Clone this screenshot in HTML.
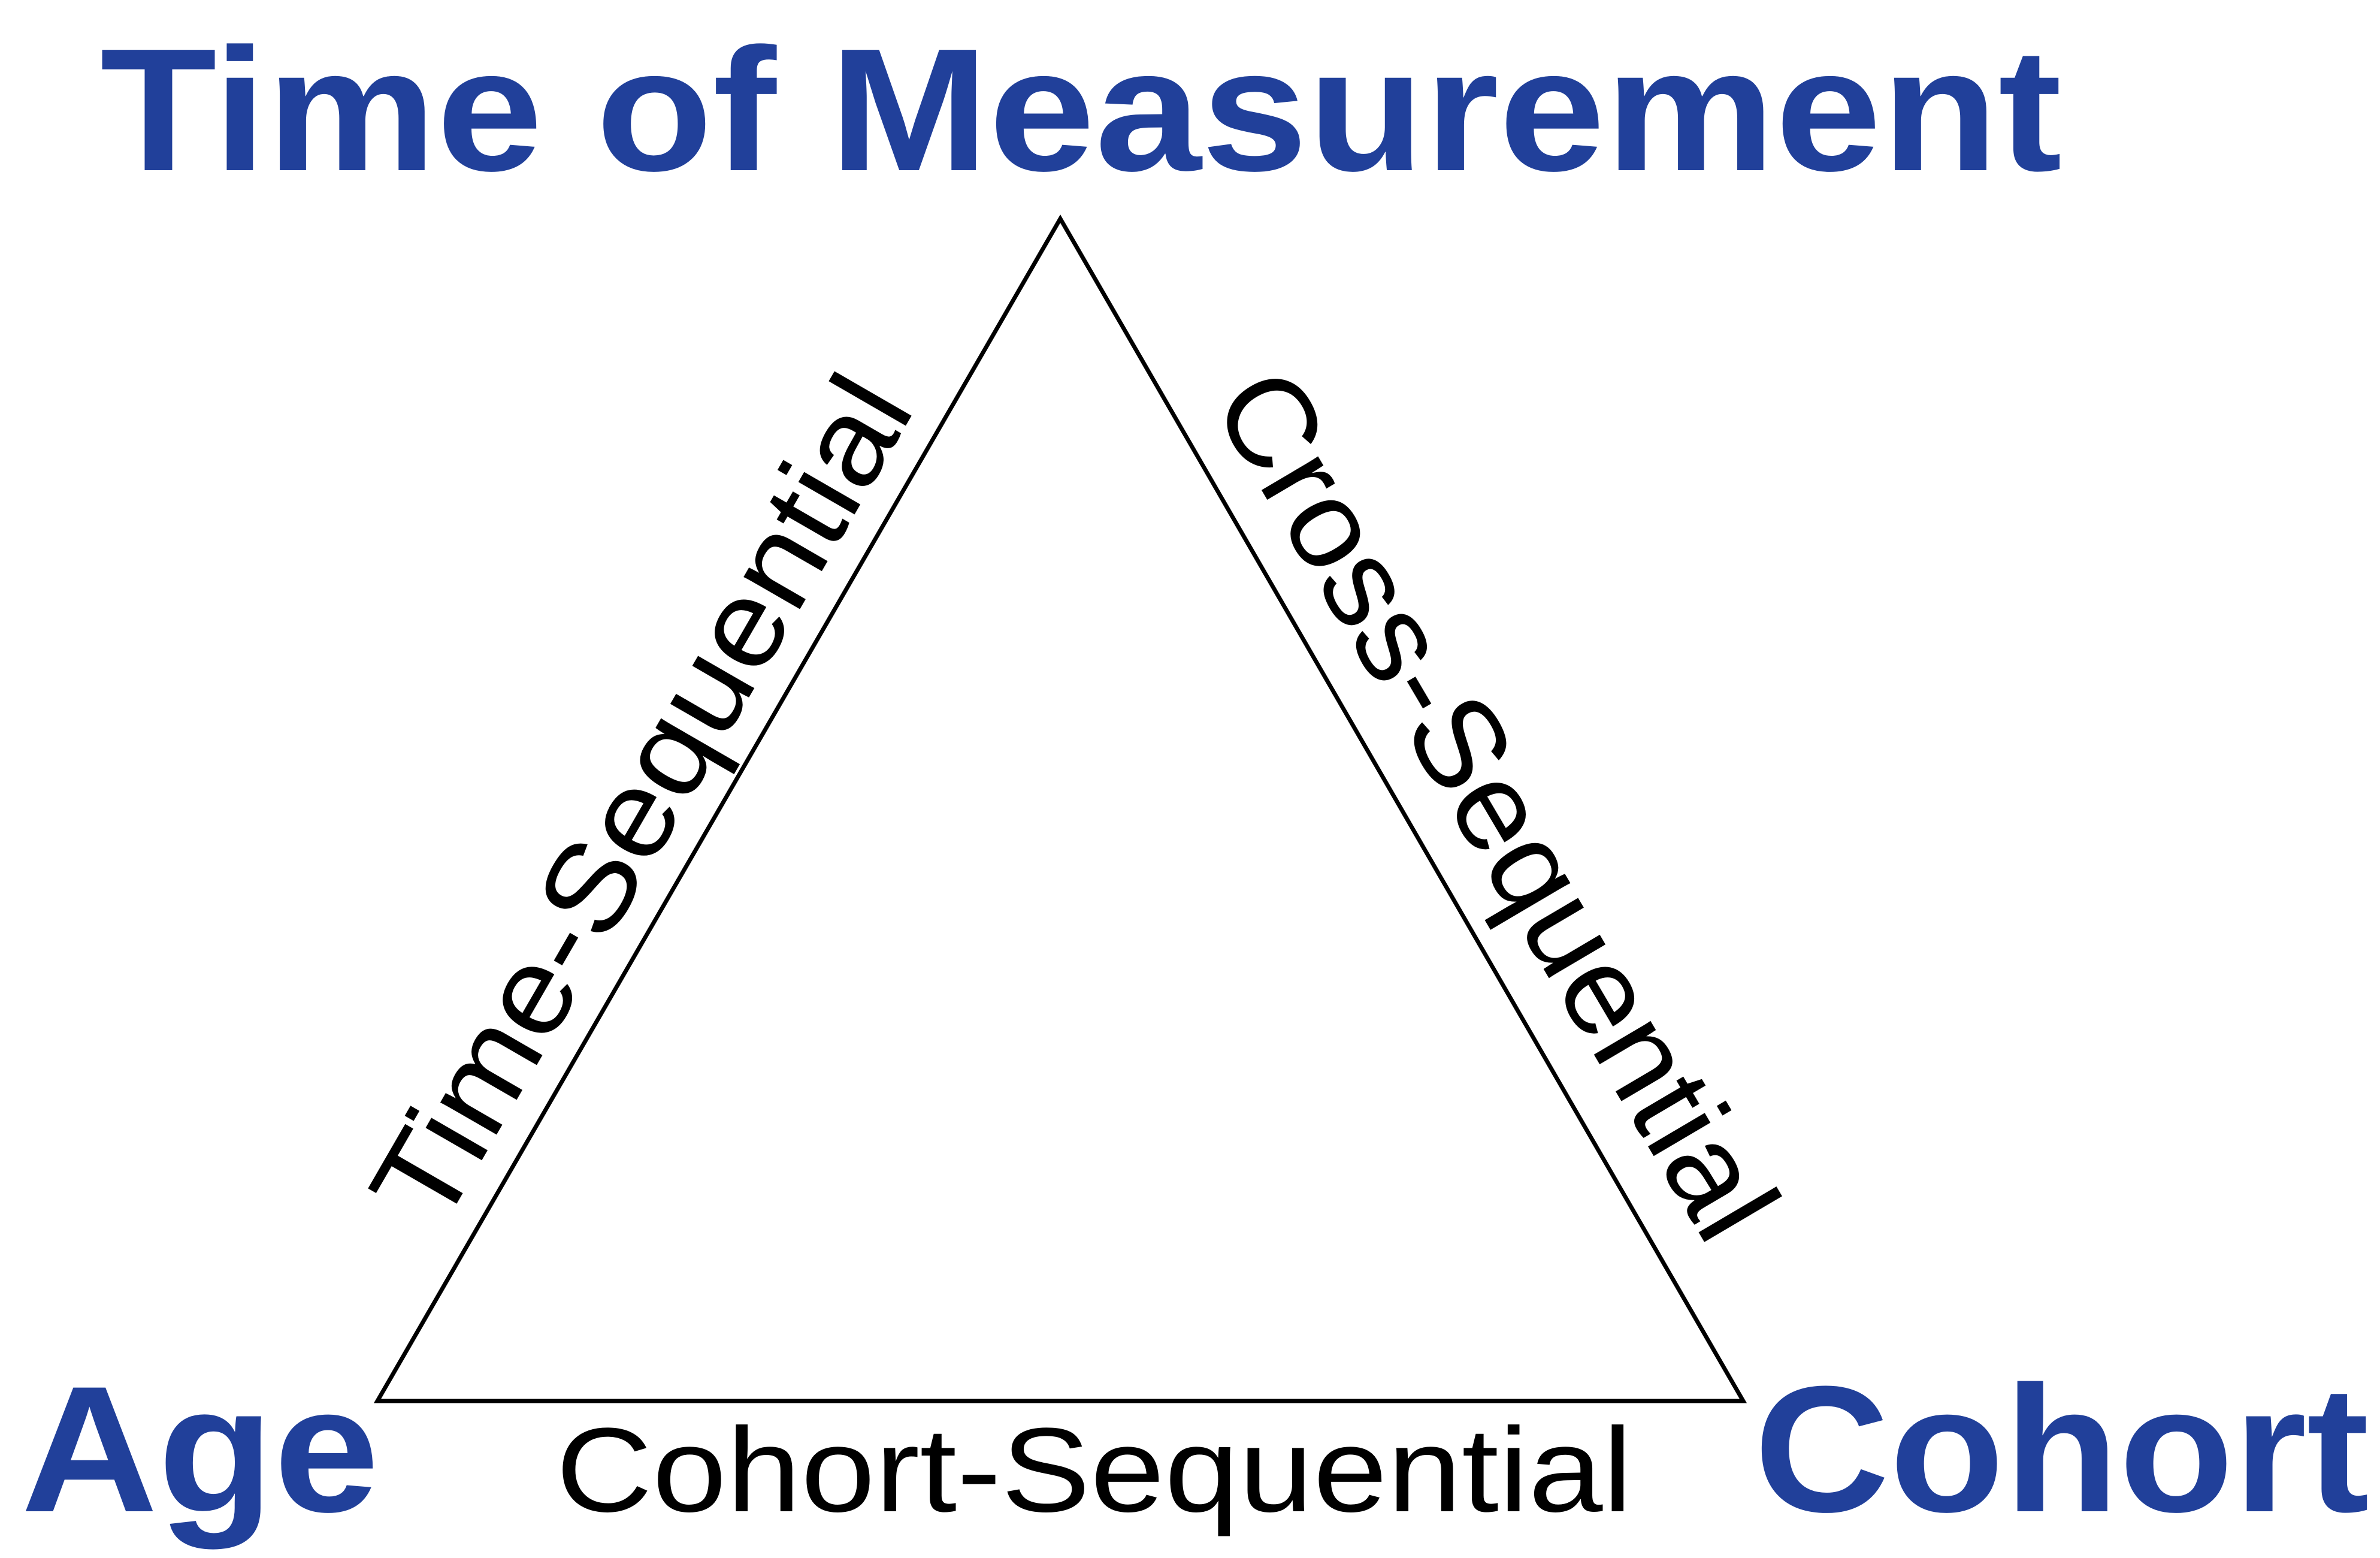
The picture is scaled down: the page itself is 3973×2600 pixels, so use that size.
<!DOCTYPE html>
<html><head><meta charset="utf-8"><style>html,body{margin:0;padding:0;background:#fff}svg{display:block}</style></head><body>
<svg width="3973" height="2600" viewBox="0 0 3973 2600" xmlns="http://www.w3.org/2000/svg">
<rect width="3973" height="2600" fill="#fff"/>
<polygon points="1770,365 630,2338 2910,2338" fill="none" stroke="#000" stroke-width="7"/>
<g font-family="Liberation Sans, sans-serif" font-weight="bold" fill="#21409a">
<text x="167" y="284" font-size="292" textLength="3275" lengthAdjust="spacingAndGlyphs">Time of Measurement</text>
<text x="35" y="2522" font-size="300" textLength="598" lengthAdjust="spacingAndGlyphs">Age</text>
<text x="2928" y="2522" font-size="300" textLength="1027" lengthAdjust="spacingAndGlyphs">Cohort</text>
</g>
<g font-family="Liberation Sans, sans-serif" fill="#000" font-size="200">
<text x="928" y="2522" textLength="1797" lengthAdjust="spacingAndGlyphs">Cohort-Sequential</text>
<text transform="translate(734,2058) rotate(-60)" font-size="205" textLength="1590" lengthAdjust="spacingAndGlyphs">Time-Sequential</text>
<text transform="translate(2020,672) rotate(59.5)" font-size="208" textLength="1640" lengthAdjust="spacingAndGlyphs">Cross-Sequential</text>
</g>
</svg>
</body></html>
